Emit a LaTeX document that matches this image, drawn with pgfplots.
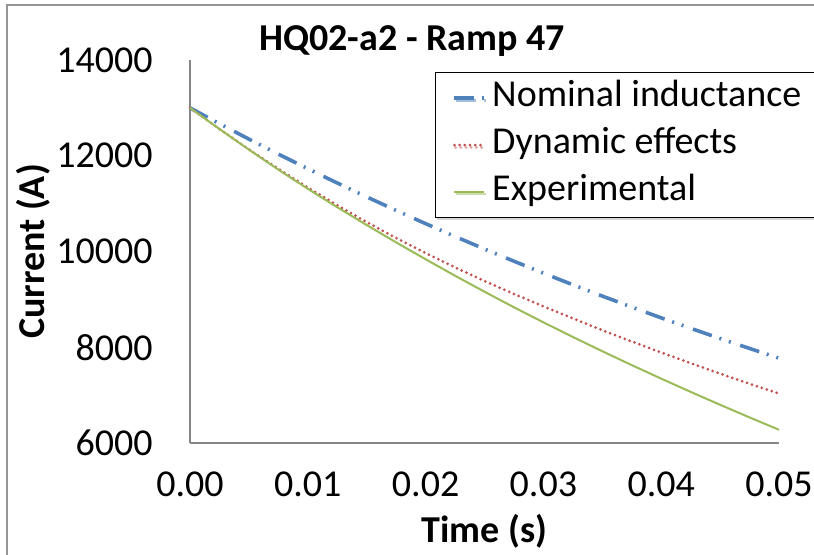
\documentclass[border=0pt]{standalone}
\usepackage{fontspec}
\setmainfont{Carlito}
\usepackage{pgfplots}
\usepackage{pgfplotstable}
\pgfplotsset{compat=1.18}
\usetikzlibrary{shadows}
\definecolor{nomblue}{RGB}{79,129,189}
\definecolor{dynred}{RGB}{192,80,77}
\definecolor{expgreen}{RGB}{155,187,89}
\definecolor{axgray}{RGB}{134,134,134}
\definecolor{bordergray}{RGB}{150,150,150}

\pgfplotstableread{
t I
0 13000
0.0025 12670
0.005 12348
0.0075 12035
0.01 11729
0.0125 11431
0.015 11141
0.0175 10858
0.02 10582
0.0225 10314
0.025 10052
0.0275 9797
0.03 9548
0.0325 9305
0.035 9069
0.0375 8839
0.04 8614
0.0425 8396
0.045 8182
0.0475 7975
0.05 7772
}\nominal

\pgfplotstableread{
t I
0 13000
0.0025 12559
0.005 12134
0.0075 11727
0.01 11337
0.0125 10967
0.015 10614
0.0175 10282
0.02 9967
0.0225 9668
0.025 9383
0.0275 9113
0.03 8854
0.0325 8602
0.035 8356
0.0375 8121
0.04 7890
0.0425 7667
0.045 7449
0.0475 7237
0.05 7033
}\dynamic

\pgfplotstableread{
t I
0 13000
0.0025 12558
0.005 12128
0.0075 11710
0.01 11310
0.0125 10925
0.015 10552
0.0175 10190
0.02 9838
0.0225 9494
0.025 9160
0.0275 8835
0.03 8520
0.0325 8215
0.035 7917
0.0375 7627
0.04 7344
0.0425 7068
0.045 6798
0.0475 6534
0.05 6276
}\experimental

\begin{document}
\begin{tikzpicture}
\draw[bordergray, line width=1pt] (-91.5pt,-70pt) -- (-91.5pt,219pt) -- (330pt,219pt);
\begin{axis}[
  at={(0,0)}, anchor=south west,
  scale only axis, width=294.5pt, height=191.5pt,
  xmin=0, xmax=0.05, ymin=6000, ymax=14000,
  xtick={0,0.01,0.02,0.03,0.04,0.05},
  ytick={6000,8000,10000,12000,14000},
  scaled x ticks=false, scaled y ticks=false,
  axis x line*=bottom, axis y line*=left,
  axis line style={axgray, line width=1pt, -},
  major tick length=0pt,
  tick style={draw=none},
  clip=false,
  font=\fontsize{19}{22}\selectfont,
  tick label style={font=\fontsize{19}{22}\selectfont, inner sep=0pt, /pgf/number format/assume math mode=true},
  xticklabel style={/pgf/number format/.cd, fixed, fixed zerofill, precision=2},
  yticklabel style={/pgf/number format/.cd, fixed, 1000 sep={}},
  xticklabel shift=14pt,
  yticklabel shift=18.5pt,
  xlabel={\bfseries Time (s)},
  xlabel style={at={(axis description cs:0.5,0)}, anchor=base, yshift=-50pt, inner sep=0pt, font=\fontsize{19}{22}\selectfont},
  ylabel={\bfseries Current (A)},
  ylabel style={at={(axis description cs:-0.2462,0.5)}, rotate=0, anchor=base, inner sep=0pt, font=\fontsize{19}{22}\selectfont},
  legend style={at={(axis description cs:0.416,0.9687)}, anchor=north west,
    draw=black, line width=0.6pt, fill=white,
    drop shadow={shadow xshift=0.6pt, shadow yshift=-1.2pt, fill=black!30},
    font=\fontsize{19}{22}\selectfont,
    inner xsep=8.5pt, inner ysep=1pt, column sep=3pt, row sep=0pt,
    nodes={inner sep=0pt, text height=16pt, text depth=7.5pt}},
  legend cell align=left,
  legend image code/.code={\draw[#1] (0pt,0pt) -- (15pt,0pt);},
]
\addplot[nomblue, line width=1.8pt, dash pattern=on 10pt off 4pt on 1pt off 4pt on 1pt off 5pt] table[x=t,y=I] {\nominal};
\addlegendentry{Nominal inductance}
\addplot[dynred, line width=1.5pt, line cap=round, dash pattern=on 0pt off 2.6pt] table[x=t,y=I] {\dynamic};
\addlegendentry{Dynamic effects}
\addplot[expgreen, line width=1pt] table[x=t,y=I] {\experimental};
\addlegendentry{Experimental}
\node[anchor=base, inner sep=0pt, font=\fontsize{19}{22}\selectfont\bfseries] at (rel axis cs:0.377,1.024) {HQ02-a2 - Ramp 47};
\end{axis}
\pgfresetboundingbox
\path[use as bounding box] (-95pt,-56pt) rectangle (312pt,221.5pt);
\end{tikzpicture}
\end{document}
